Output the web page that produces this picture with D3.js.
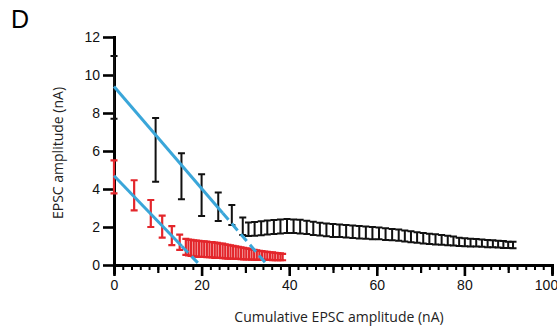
<!DOCTYPE html>
<html>
<head>
<meta charset="utf-8">
<script src="https://cdn.jsdelivr.net/npm/d3@7/dist/d3.min.js"></script>
<style>
  html, body { margin: 0; padding: 0; background: #fff; }
  svg { display: block; }
</style>
</head>
<body>
<svg id="chart" width="557" height="327"></svg>
<script>
// ---------- data ----------
const xTicks = [0, 20, 40, 60, 80, 100];
const yTicks = [0, 2, 4, 6, 8, 10, 12];

const blackX = [0, 9.5, 15.4, 20.0, 23.8, 26.9, 29.4,
  30.7, 32.1, 33.6, 35.0, 36.5, 38.0, 39.5, 41.0, 42.5, 44.0,
  45.5, 47.0, 48.5, 50.0, 51.5, 53.0, 54.5, 56.0, 57.5, 59.0,
  60.5, 62.0, 63.5, 65.0, 66.4, 67.8, 69.2, 70.6, 72.0, 73.4,
  74.8, 76.2, 77.5, 78.8, 80.1, 81.4, 82.7, 84.0, 85.3, 86.5,
  87.7, 88.9, 90.0, 91.1];
const blackMean = [9.35, 6.06, 4.67, 3.68, 3.06, 2.63, 2.04,
  1.88, 1.90, 1.93, 1.97, 2.00, 2.03, 2.05, 2.04, 2.02, 1.98,
  1.93, 1.89, 1.85, 1.82, 1.80, 1.78, 1.75, 1.72, 1.70, 1.68,
  1.66, 1.63, 1.60, 1.57, 1.53, 1.49, 1.45, 1.41, 1.38, 1.35,
  1.32, 1.29, 1.26, 1.22, 1.20, 1.18, 1.17, 1.15, 1.13, 1.12,
  1.10, 1.08, 1.06, 1.05];
const blackErr = [1.65, 1.68, 1.21, 1.10, 0.75, 0.53, 0.46,
  0.36, 0.36, 0.37, 0.37, 0.37, 0.37, 0.37, 0.36, 0.36, 0.35,
  0.35, 0.34, 0.34, 0.34, 0.33, 0.33, 0.33, 0.33, 0.32, 0.32,
  0.31, 0.31, 0.30, 0.30, 0.29, 0.29, 0.28, 0.28, 0.27, 0.27,
  0.26, 0.25, 0.24, 0.22, 0.21, 0.20, 0.20, 0.19, 0.19, 0.18,
  0.18, 0.18, 0.17, 0.17];

const redX = [0, 4.6, 8.4, 11.0, 13.2, 15.0,
  16.4, 17.0, 17.6, 18.2, 18.8, 19.4, 20.0, 20.6, 21.2, 21.8,
  22.4, 23.0, 23.6, 24.2, 24.8, 25.4, 26.0, 26.6, 27.2, 27.8,
  28.4, 29.0, 29.6, 30.2, 30.8, 31.4, 32.0, 32.6, 33.2, 33.8,
  34.4, 35.0, 35.6, 36.2, 36.8, 37.4, 38.0, 38.5];
const redMean = [4.64, 3.67, 2.71, 2.02, 1.55, 1.20,
  0.95, 0.92, 0.90, 0.88, 0.86, 0.85, 0.84, 0.83, 0.82, 0.81,
  0.80, 0.78, 0.77, 0.75, 0.74, 0.72, 0.70, 0.69, 0.67, 0.65,
  0.64, 0.62, 0.60, 0.58, 0.57, 0.55, 0.54, 0.52, 0.51, 0.50,
  0.49, 0.48, 0.47, 0.46, 0.45, 0.44, 0.43, 0.42];
const redErr = [0.87, 0.79, 0.71, 0.58, 0.50, 0.40,
  0.42, 0.42, 0.42, 0.42, 0.42, 0.42, 0.41, 0.41, 0.41, 0.40,
  0.40, 0.40, 0.39, 0.38, 0.38, 0.37, 0.36, 0.35, 0.34, 0.33,
  0.32, 0.31, 0.30, 0.29, 0.28, 0.27, 0.26, 0.25, 0.24, 0.23,
  0.22, 0.21, 0.20, 0.20, 0.19, 0.18, 0.18, 0.17];

// linear fits: y-intercept, x-intercept, end of the solid (fitted) part
const fitYIntercept = [9.4, 4.7];
const fitXIntercept = [35.0, 19.6];
const fitSolidEnd = [24.8, 15.5];

// ---------- drawing ----------
const svg = d3.select("#chart");
const x = d3.scaleLinear().domain([0, 100]).range([114, 552]);
const y = d3.scaleLinear().domain([0, 12]).range([265, 37]);

const tickFont = "'Liberation Sans', Arial, sans-serif";
const titleFont = "'Open Sans', 'Noto Sans', sans-serif";

// panel letter
svg.append("text").attr("x", 11).attr("y", 28)
  .attr("font-family", tickFont).attr("font-size", 25).text("D");

// axes
const yAxis = d3.axisLeft(y).tickValues(yTicks).tickSize(11).tickSizeOuter(0).tickPadding(3);
const gy = svg.append("g").attr("transform", `translate(${x(0)},0)`).call(yAxis);

const xMinor = d3.range(0, 101, 2);
const gxMinor = svg.append("g").attr("transform", `translate(0,${y(0)})`)
  .call(d3.axisBottom(x).tickValues(xMinor).tickSize(5).tickFormat(""));
const gxMid = svg.append("g").attr("transform", `translate(0,${y(0)})`)
  .call(d3.axisBottom(x).tickValues([10, 30, 50, 70, 90]).tickSize(8).tickFormat(""));
const gx = svg.append("g").attr("transform", `translate(0,${y(0)})`)
  .call(d3.axisBottom(x).tickValues(xTicks).tickSize(11).tickSizeOuter(0).tickPadding(4));

[gy, gx, gxMinor, gxMid].forEach(g => {
  g.select(".domain").attr("stroke", "#000").attr("stroke-width", 3).attr("stroke-linecap", "square");
  g.selectAll(".tick line").attr("stroke", "#000").attr("stroke-width", 2.6);
  g.selectAll(".tick text").attr("font-family", tickFont).attr("font-size", 14).attr("fill", "#111");
});
gxMinor.selectAll(".tick line").attr("stroke-width", 2);
gxMid.selectAll(".tick line").attr("stroke-width", 2.2);
gx.selectAll(".tick text").filter(d => d === 100).attr("dx", -6);

// error bars (drawn over the axes)
function drawSeries(xs, means, errs, color, sw) {
  const g = svg.append("g").attr("stroke", color).attr("stroke-width", sw).attr("fill", "none");
  const data = xs.map((v, i) => ({x: v, m: means[i], e: errs[i]}));
  const cap = 3.5;
  g.selectAll("path").data(data).join("path")
    .attr("d", d => {
      const cx = x(d.x), t = y(d.m + d.e), b = y(d.m - d.e);
      return `M${cx},${t}V${b}M${cx - cap},${t}H${cx + cap}M${cx - cap},${b}H${cx + cap}`;
    });
}
drawSeries(blackX, blackMean, blackErr, "#111", 2);
drawSeries(redX, redMean, redErr, "#e3262b", 2.2);

// fit lines
const blue = "#3aa6d9";
fitYIntercept.forEach((b, i) => {
  const slope = -b / fitXIntercept[i];
  const se = fitSolidEnd[i];
  svg.append("line")
    .attr("x1", x(0)).attr("y1", y(b))
    .attr("x2", x(se)).attr("y2", y(b + slope * se))
    .attr("stroke", blue).attr("stroke-width", 3);
  svg.append("line")
    .attr("x1", x(se)).attr("y1", y(b + slope * se))
    .attr("x2", x(fitXIntercept[i])).attr("y2", y(0))
    .attr("stroke", blue).attr("stroke-width", 3).attr("stroke-dasharray", "9,5");
});

// axis titles
svg.append("text")
  .attr("x", 339).attr("y", 322).attr("text-anchor", "middle")
  .attr("font-family", titleFont).attr("font-size", 14).attr("fill", "#222")
  .text("Cumulative EPSC amplitude (nA)");
svg.append("text")
  .attr("transform", "translate(63,153) rotate(-90)").attr("text-anchor", "middle")
  .attr("font-family", titleFont).attr("font-size", 14).attr("fill", "#222")
  .text("EPSC amplitude (nA)");
</script>
</body>
</html>
